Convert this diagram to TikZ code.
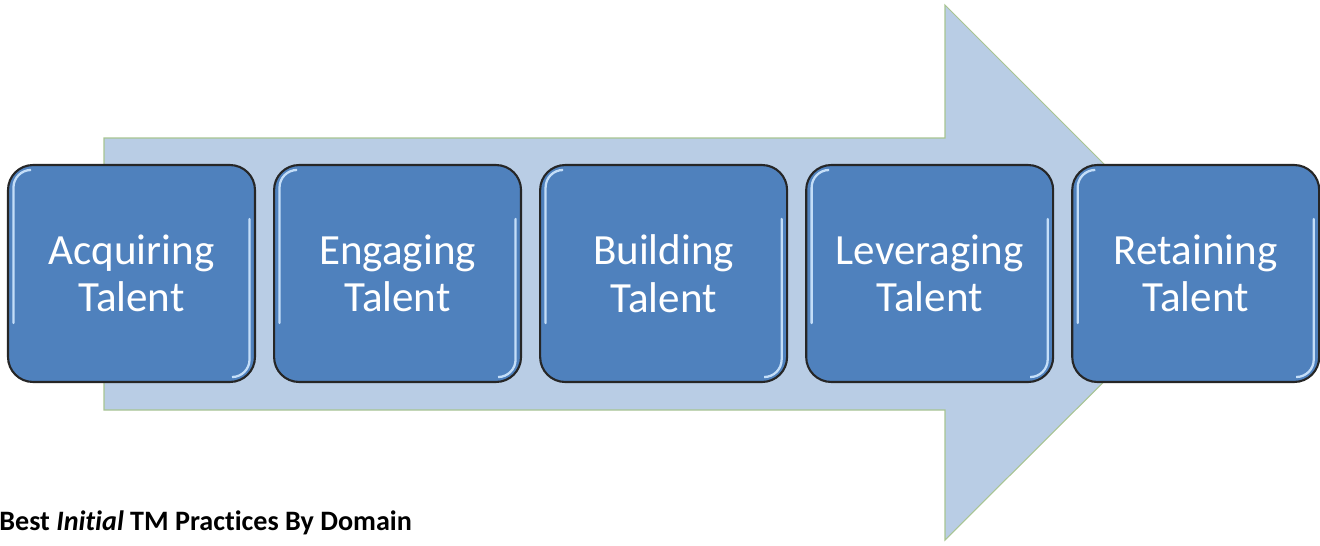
\documentclass[tikz,border=0pt]{standalone}
\usepackage{fontspec}
\setmainfont{Carlito}[Ligatures=NoCommon]
\usetikzlibrary{positioning}
\definecolor{boxblue}{RGB}{79,129,189}
\definecolor{arrowblue}{RGB}{185,205,229}
\definecolor{arrowedge}{RGB}{168,196,146}
\definecolor{glossblue}{RGB}{196,222,248}

\begin{document}
\begin{tikzpicture}[
        x=0.02cm, y=-0.02cm,
        node distance=0.34cm,
        stagebox/.style={rectangle, rounded corners=0.5cm, draw=black!85,
            line width=1.2pt, fill=boxblue, text=white, align=center,
            minimum width=4.94cm, minimum height=4.34cm,
            font=\fontsize{24.5}{27}\selectfont},
        gloss/.style={draw=glossblue, line width=1.3pt, line cap=round}
    ]
    \useasboundingbox (0,0) rectangle (1320,545);

    % -- Fleche de fond --
    \filldraw[fill=arrowblue, draw=arrowedge, line width=0.6pt]
        (104,138) -- (945,138) -- (945,5) -- (1213,273)
        -- (945,540) -- (945,410) -- (104,410) -- cycle;

    % -- Etapes --
    \node[stagebox] (acq) at (131.5,273.5) {Acquiring\\Talent};
    \node[stagebox, right=of acq] (eng) {Engaging\\Talent};
    \node[stagebox, right=of eng] (bld) {Building\\Talent};
    \node[stagebox, right=of bld] (lev) {Leveraging\\Talent};
    \node[stagebox, right=of lev] (ret) {Retaining\\Talent};

    % -- Reflets sur les bords --
    \foreach \b in {acq,eng,bld,lev,ret} {
        \draw[gloss, rounded corners=0.35cm]
            ([shift={(0.45cm,-0.12cm)}]\b.north west)
            -- ([shift={(0.13cm,-0.12cm)}]\b.north west)
            -- ([shift={(0.13cm,1.2cm)}]\b.south west);
        \draw[gloss, rounded corners=0.35cm]
            ([shift={(-0.13cm,-1.1cm)}]\b.north east)
            -- ([shift={(-0.13cm,0.12cm)}]\b.south east)
            -- ([shift={(-0.45cm,0.12cm)}]\b.south east);
    }

    % -- Titre --
    \node[anchor=base west, inner sep=0pt, font=\bfseries\fontsize{16}{19}\selectfont]
        (title) at (-1,530) {Best \textit{Initial} TM Practices By Domain};

\end{tikzpicture}
\end{document}
